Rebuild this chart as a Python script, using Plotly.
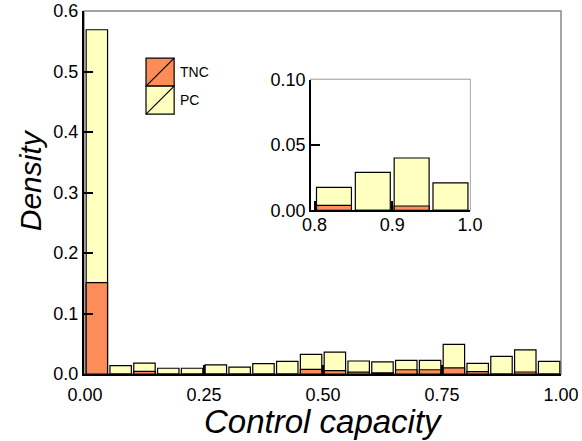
import plotly.graph_objects as go

# ---- data ----
bin_centers = [0.025 + 0.05 * i for i in range(20)]
pc_density = [0.569, 0.014, 0.018, 0.0095, 0.0095, 0.015, 0.0115, 0.017, 0.021, 0.0325,
              0.036, 0.0215, 0.020, 0.0225, 0.0225, 0.049, 0.0176, 0.029, 0.040, 0.021]
tnc_density = [0.151, 0.0, 0.0045, 0.0, 0.0, 0.0, 0.0, 0.0, 0.0, 0.0075,
               0.0055, 0.003, 0.002, 0.007, 0.007, 0.010, 0.0038, 0.0, 0.0033, 0.0]
x_ticks = [0.0, 0.25, 0.5, 0.75, 1.0]
y_ticks = [0.0, 0.1, 0.2, 0.3, 0.4, 0.5, 0.6]
inset_x_ticks = [0.8, 0.9, 1.0]
inset_y_ticks = [0.0, 0.05, 0.10]

PC_COLOR = "#ffffbf"
TNC_COLOR = "#fc8d59"
FONT = "Liberation Sans, Arial, sans-serif"

inset_x = [x for x in bin_centers if x > 0.8]
inset_pc = [v for x, v in zip(bin_centers, pc_density) if x > 0.8]
inset_tnc = [v for x, v in zip(bin_centers, tnc_density) if x > 0.8]

fig = go.Figure()
line = dict(color="black", width=1.2)
fig.add_trace(go.Bar(x=bin_centers, y=pc_density, name="PC", marker=dict(color=PC_COLOR, line=line),
                     width=0.045, showlegend=False))
fig.add_trace(go.Bar(x=bin_centers, y=tnc_density, name="TNC", marker=dict(color=TNC_COLOR, line=line),
                     width=0.045, showlegend=False))
fig.add_trace(go.Bar(x=inset_x, y=inset_pc, name="PC", marker=dict(color=PC_COLOR, line=line),
                     width=0.045, showlegend=False, xaxis="x2", yaxis="y2"))
fig.add_trace(go.Bar(x=inset_x, y=inset_tnc, name="TNC", marker=dict(color=TNC_COLOR, line=line),
                     width=0.045, showlegend=False, xaxis="x2", yaxis="y2"))

axis_common = dict(showline=True, linecolor="black", linewidth=2, ticks="inside", ticklen=9,
                   tickcolor="black", tickwidth=1.5, showgrid=False, zeroline=False, automargin=False,
                   tickfont=dict(family=FONT, size=18, color="black"))

fig.update_layout(
    width=582, height=441,
    margin=dict(l=84, r=21, t=11, b=67),
    paper_bgcolor="white", plot_bgcolor="white",
    barmode="overlay",
    xaxis=dict(range=[-0.002, 1.0], tickvals=x_ticks, tickformat=".2f", domain=[0, 1],
               ticklabelstandoff=3, **axis_common),
    yaxis=dict(range=[0, 0.6], tickvals=y_ticks, tickformat=".1f", domain=[0, 1], **axis_common),
    xaxis2=dict(range=[0.7955, 1.0], tickvals=inset_x_ticks, tickformat=".1f", domain=[0.476, 0.809],
                anchor="y2", ticklabelstandoff=-3, **axis_common),
    yaxis2=dict(range=[0, 0.1], tickvals=inset_y_ticks, tickformat=".2f", domain=[0.451, 0.811],
                anchor="x2", **axis_common),
    showlegend=False,
)

shapes = [
    dict(type="rect", xref="paper", yref="paper", x0=0, x1=1, y0=0, y1=1,
         line=dict(color="#888888", width=1.5), layer="below"),
    dict(type="rect", xref="x2 domain", yref="y2 domain", x0=0, x1=1, y0=0, y1=1,
         line=dict(color="#888888", width=1.5), layer="below"),
]
# custom legend
leg_x0, leg_x1 = 0.130, 0.189
for (y0, y1, col) in [(0.793, 0.870, TNC_COLOR), (0.716, 0.793, PC_COLOR)]:
    shapes.append(dict(type="rect", xref="paper", yref="paper", x0=leg_x0, x1=leg_x1, y0=y0, y1=y1,
                       fillcolor=col, line=dict(color="black", width=1.2)))
    shapes.append(dict(type="line", xref="paper", yref="paper", x0=leg_x0, x1=leg_x1, y0=y0, y1=y1,
                       line=dict(color="black", width=1.2)))
fig.update_layout(shapes=shapes)

annotations = [
    dict(text="TNC", xref="paper", yref="paper", x=0.197, y=0.831, xanchor="left", yanchor="middle",
         showarrow=False, font=dict(family=FONT, size=14, color="black")),
    dict(text="PC", xref="paper", yref="paper", x=0.197, y=0.754, xanchor="left", yanchor="middle",
         showarrow=False, font=dict(family=FONT, size=14, color="black")),
    dict(text="<i>Density</i>", xref="paper", yref="paper", x=-0.113, y=0.534, xanchor="center",
         yanchor="middle", textangle=-90, showarrow=False, font=dict(family=FONT, size=30, color="black")),
    dict(text="<i>Control capacity</i>", xref="paper", yref="paper", x=0.503, y=-0.131, xanchor="center",
         yanchor="middle", showarrow=False, font=dict(family=FONT, size=33, color="black")),
]
fig.update_layout(annotations=annotations)

fig.write_html("out.html", config={"displayModeBar": False},
               post_script="document.body.style.margin='0';")
